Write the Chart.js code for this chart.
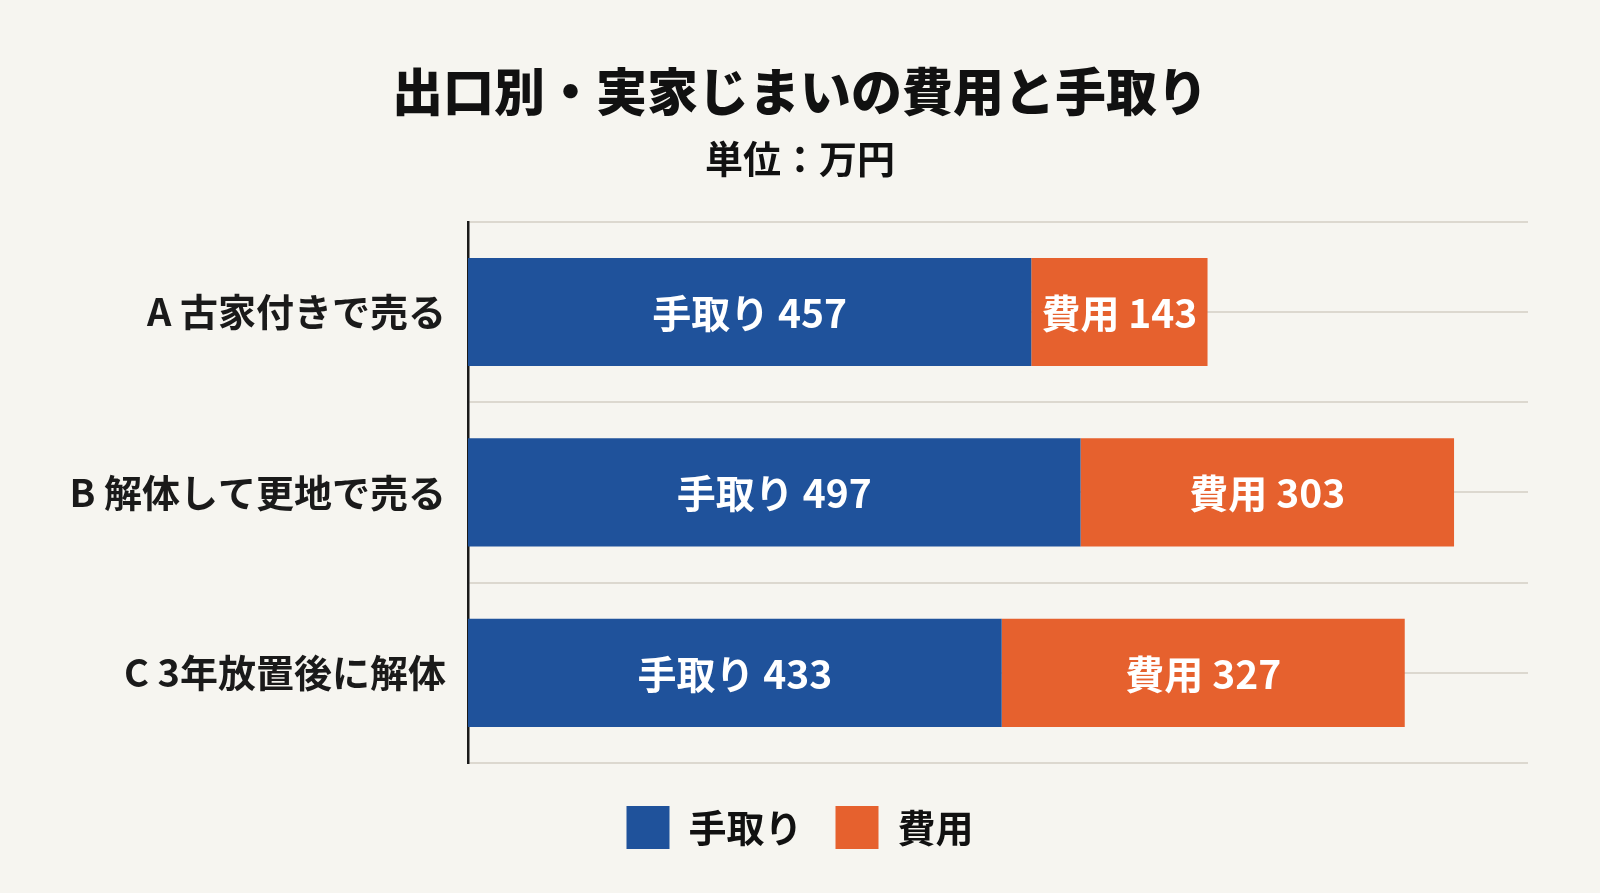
<!DOCTYPE html>
<html lang="ja">
<head>
    <meta charset="UTF-8">
    <title>出口別・実家じまいの費用と手取り</title>
    <script src="https://cdn.jsdelivr.net/npm/chart.js"></script>
    <style>
        html, body { margin: 0; padding: 0; background: #f6f5f0; }
        #wrap { width: 1600px; height: 893px; position: relative; }
    </style>
</head>
<body>
    <div id="wrap">
        <canvas id="exitChart"></canvas>
    </div>

    <script>
        // データ（単位：万円）
        const categories = ["A 古家付きで売る", "B 解体して更地で売る", "C 3年放置後に解体"];
        const seriesNames = ["手取り", "費用"];
        const tedori = [457, 497, 433];
        const hiyou = [143, 303, 327];

        const blue = "#1f529b";
        const orange = "#e6612e";
        const gridColor = "#dcd8cf";
        const fontFamily = "'Noto Sans CJK JP', 'Noto Sans', sans-serif";

        // バーの中に「系列名 値」を描く
        const barLabels = {
            id: "barLabels",
            afterDatasetsDraw(chart) {
                const ctx = chart.ctx;
                ctx.save();
                ctx.fillStyle = "#ffffff";
                ctx.font = "bold 39px " + fontFamily;
                ctx.textAlign = "center";
                ctx.textBaseline = "middle";
                chart.data.datasets.forEach((ds, i) => {
                    const meta = chart.getDatasetMeta(i);
                    meta.data.forEach((bar, j) => {
                        const p = bar.getProps(["x", "y", "base"], true);
                        ctx.fillText(ds.label + " " + ds.data[j], (p.x + p.base) / 2, p.y + 1);
                    });
                });
                ctx.restore();
            }
        };

        new Chart(document.getElementById("exitChart"), {
            type: "bar",
            data: {
                labels: categories,
                datasets: [
                    { label: seriesNames[0], data: tedori, backgroundColor: blue },
                    { label: seriesNames[1], data: hiyou, backgroundColor: orange }
                ]
            },
            options: {
                indexAxis: "y",
                responsive: true,
                maintainAspectRatio: false,
                animation: false,
                datasets: {
                    bar: { barPercentage: 0.6, categoryPercentage: 1.0 }
                },
                layout: {
                    padding: { top: 0, right: 72, bottom: 34, left: 72 }
                },
                plugins: {
                    title: {
                        display: true,
                        text: "出口別・実家じまいの費用と手取り",
                        color: "#111111",
                        font: { family: fontFamily, size: 51, weight: "900", lineHeight: 1.2 },
                        padding: { top: 61, bottom: 14 }
                    },
                    subtitle: {
                        display: true,
                        text: "単位：万円",
                        color: "#111111",
                        font: { family: fontFamily, size: 38, weight: "bold", lineHeight: 1.2 },
                        padding: { top: 0, bottom: 40 }
                    },
                    legend: {
                        position: "bottom",
                        // 空のタイトルで凡例とグラフの間隔をとる
                        title: { display: true, text: "", padding: { top: 4, bottom: 0 }, font: { size: 5, lineHeight: 1.2 } },
                        labels: {
                            boxWidth: 43,
                            boxHeight: 43,
                            padding: 33,
                            color: "#111111",
                            font: { family: fontFamily, size: 38, weight: "bold" }
                        }
                    },
                    tooltip: { enabled: false }
                },
                scales: {
                    x: {
                        display: false,
                        stacked: true,
                        min: 0,
                        max: 860
                    },
                    y: {
                        stacked: true,
                        offset: true,
                        grid: { offset: true, color: gridColor, lineWidth: 2, drawTicks: false },
                        border: { display: true, color: "#1a1a1a", width: 2.5 },
                        ticks: {
                            color: "#1a1a1a",
                            padding: 22,
                            font: { family: fontFamily, size: 38, weight: "bold" }
                        },
                        afterFit(scale) { scale.width = 396; }
                    },
                    // バー中央の補助線
                    yMid: {
                        type: "category",
                        axis: "y",
                        position: "left",
                        offset: true,
                        grid: { offset: false, color: gridColor, lineWidth: 2, drawTicks: false },
                        border: { display: false },
                        ticks: { display: false },
                        afterFit(scale) { scale.width = 0; }
                    }
                }
            },
            plugins: [barLabels]
        });
    </script>
</body>
</html>
